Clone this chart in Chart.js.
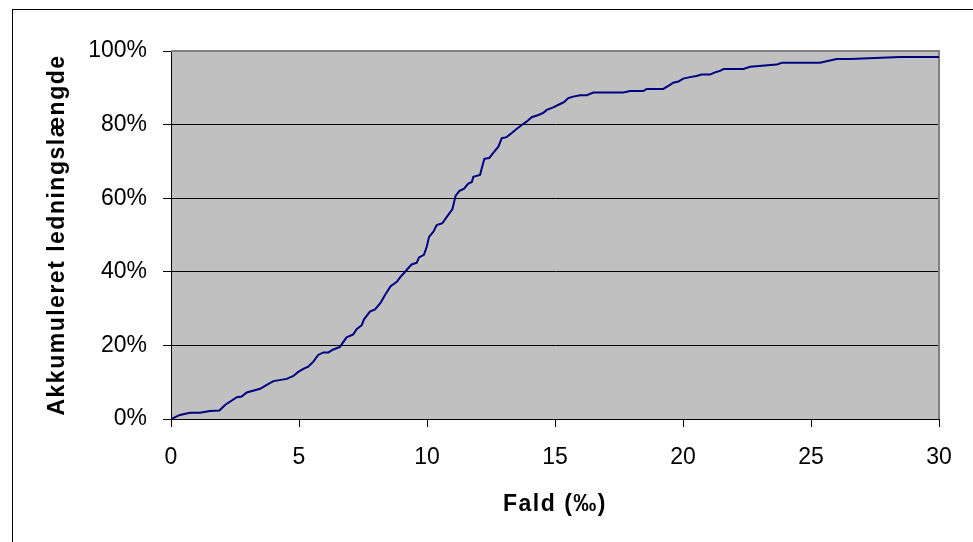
<!DOCTYPE html>
<html>
<head>
<meta charset="utf-8">
<script src="https://cdn.jsdelivr.net/npm/chart.js@4/dist/chart.umd.min.js"></script>
<style>
  html, body { margin: 0; padding: 0; background: #fff; }
  #frame { position: absolute; left: 12px; top: 9px; width: 1000px; height: 600px;
           border-top: 1px solid #000; border-left: 1px solid #000; }
  #chart { position: absolute; left: 0; top: 0; }
</style>
</head>
<body>
<div id="frame"></div>
<canvas id="chart" width="973" height="542"></canvas>
<script>
// Fald (promille) og akkumuleret ledningslængde (%)
const fald = [0, 0.35, 0.74, 1.13, 1.52, 1.89, 2.11, 2.57, 2.76, 2.96, 3.48, 3.74, 4.0, 4.52, 4.78, 4.97,
  5.17, 5.36, 5.56, 5.75, 5.95, 6.15, 6.34, 6.6, 6.7, 6.86, 7.12, 7.25, 7.45, 7.54, 7.77, 7.97, 8.19, 8.36,
  8.58, 8.82, 8.95, 9.23, 9.4, 9.6, 9.69, 9.88, 9.99, 10.08, 10.25, 10.38, 10.6, 10.78, 10.99, 11.12, 11.27,
  11.45, 11.6, 11.75, 11.81, 12.07, 12.24, 12.43, 12.62, 12.79, 12.92, 13.11, 13.31, 13.5, 13.7, 13.89, 14.09,
  14.35, 14.54, 14.68, 14.93, 15.2, 15.35, 15.52, 15.71, 15.98, 16.24, 16.5, 17.67, 17.93, 18.45, 18.58, 19.23,
  19.49, 19.62, 19.82, 20.01, 20.27, 20.53, 20.73, 21.05, 21.25, 21.45, 21.58, 22.36, 22.62, 23.66, 23.86,
  25.35, 26.0, 26.52, 28.48, 30.0];
const akkumuleret = [0, 1.1, 1.7, 1.7, 2.2, 2.3, 3.8, 5.9, 6.1, 7.2, 8.2, 9.3, 10.3, 10.9, 11.7, 12.8,
  13.6, 14.2, 15.6, 17.4, 18.1, 18.1, 18.9, 19.6, 20.6, 22.2, 23.0, 24.4, 25.5, 27.1, 29.2, 29.8, 31.6, 33.7,
  36.1, 37.3, 38.5, 40.7, 42.0, 42.5, 43.9, 44.6, 46.8, 49.5, 50.9, 52.7, 53.2, 55.0, 57.0, 60.7, 62.0,
  62.6, 63.9, 64.4, 65.8, 66.3, 70.7, 70.9, 72.6, 74.0, 76.3, 76.6, 77.7, 78.8, 79.9, 80.8, 82.0,
  82.6, 83.2, 84.0, 84.7, 85.6, 86.1, 87.2, 87.6, 88.0, 88.0, 88.7, 88.7, 89.1, 89.1, 89.7, 89.7,
  90.8, 91.4, 91.7, 92.5, 92.9, 93.2, 93.6, 93.6, 94.2, 94.6, 95.1, 95.1, 95.7, 96.3, 96.8,
  96.8, 97.8, 97.8, 98.4, 98.4];
const xTicks = [0, 5, 10, 15, 20, 25, 30];
const yTicks = [0, 20, 40, 60, 80, 100];

const FONT = "'Liberation Sans', Arial, sans-serif";

const plotBg = {
  id: 'plotBg',
  beforeDraw(chart) {
    const { ctx, chartArea: a } = chart;
    ctx.save();
    ctx.fillStyle = '#c0c0c0';
    ctx.fillRect(a.left, a.top, a.right - a.left, a.bottom - a.top);
    ctx.restore();
    // aksetitlerne er spærret lidt ud (tegnes i grid-laget)
    ctx.letterSpacing = '1.5px';
  },
  beforeDatasetsDraw(chart) {
    const { ctx, chartArea: a } = chart;
    ctx.letterSpacing = '0px';
    // grå ramme top og højre
    ctx.save();
    ctx.strokeStyle = '#808080';
    ctx.lineWidth = 2;
    ctx.beginPath();
    ctx.moveTo(a.left, a.top);
    ctx.lineTo(a.right, a.top);
    ctx.lineTo(a.right, a.bottom);
    ctx.stroke();
    ctx.restore();
  }
};

new Chart(document.getElementById('chart'), {
  type: 'scatter',
  data: {
    datasets: [{
      data: fald.map((x, i) => ({ x: x, y: akkumuleret[i] })),
      showLine: true,
      borderColor: '#000080',
      borderWidth: 2,
      pointRadius: 0,
      tension: 0
    }]
  },
  options: {
    responsive: false,
    animation: false,
    layout: { padding: { left: 0, top: 51, right: 34, bottom: 0 } },
    plugins: { legend: { display: false }, tooltip: { enabled: false } },
    scales: {
      x: {
        type: 'linear', min: 0, max: 30,
        afterBuildTicks: (s) => { s.ticks = xTicks.map(v => ({ value: v })); },
        afterFit: (s) => { s.height = 123; },
        grid: { drawOnChartArea: false, drawTicks: true, tickLength: 8, color: '#000' },
        border: { color: '#000', width: 1 },
        ticks: { z: 1, color: '#000', font: { family: FONT, size: 23 }, padding: 17, maxRotation: 0 },
        title: { display: true, text: 'Fald (‰)', color: '#000',
                 font: { family: FONT, size: 23, weight: 'bold' }, padding: { top: 0, bottom: 24 } }
      },
      y: {
        type: 'linear', min: 0, max: 100,
        afterBuildTicks: (s) => { s.ticks = yTicks.map(v => ({ value: v })); },
        afterFit: (s) => { s.width = 171; },
        grid: { color: '#000', lineWidth: 1, drawTicks: true, tickLength: 8 },
        border: { color: '#000', width: 1 },
        ticks: { z: 1, color: '#000', font: { family: FONT, size: 23 }, padding: 16,
                 callback: (v) => v + '%' },
        title: { display: true, text: 'Akkumuleret ledningslængde', color: '#000',
                 font: { family: FONT, size: 23, weight: 'bold' }, padding: { top: 44, bottom: 0 } }
      }
    }
  },
  plugins: [plotBg]
});
</script>
</body>
</html>
